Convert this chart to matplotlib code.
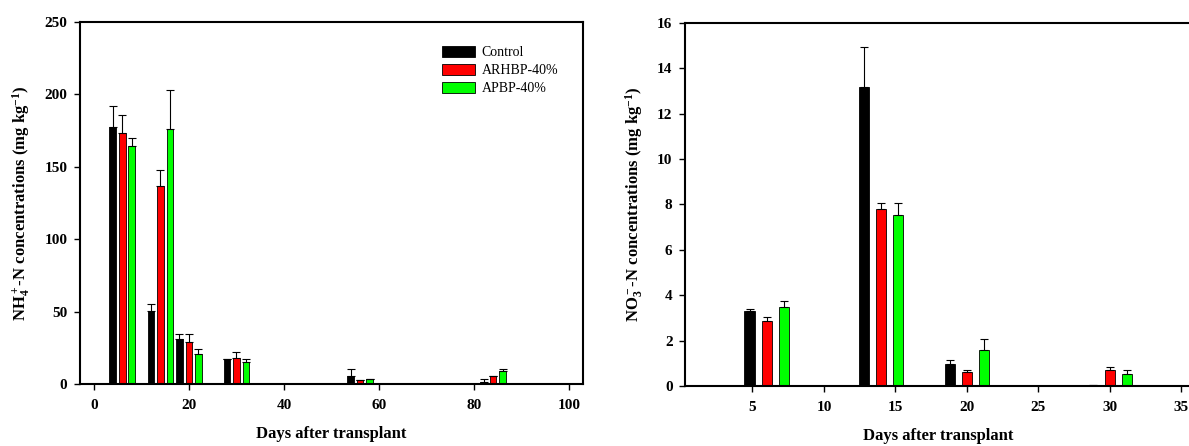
import matplotlib
matplotlib.use("Agg")
import matplotlib.pyplot as plt
import numpy as np

plt.rcParams['font.family'] = ['Liberation Serif', 'DejaVu Serif']
plt.rcParams['mathtext.fontset'] = 'custom'
plt.rcParams['mathtext.rm'] = 'Liberation Serif:bold'
plt.rcParams['mathtext.it'] = 'Liberation Serif:bold'
plt.rcParams['mathtext.bf'] = 'Liberation Serif:bold'
plt.rcParams['mathtext.default'] = 'rm'

series = ['Control', 'ARHBP-40%', 'APBP-40%']
colors = ['#000000', '#ff0000', '#00ff00']

# Left panel: NH4+-N
nh4_days = [6, 14, 20, 30, 56, 84]
nh4_control = [177.8, 50.1, 30.8, 17.0, 5.5, 1.2]
nh4_control_err = [14.2, 5.1, 3.9, 0.3, 4.8, 2.5]
nh4_arhbp = [173.2, 136.8, 28.7, 17.9, 2.8, 5.3]
nh4_arhbp_err = [12.6, 11.3, 5.6, 4.1, 0.2, 0.3]
nh4_apbp = [164.7, 176.4, 20.5, 15.2, 3.2, 9.2]
nh4_apbp_err = [5.0, 26.9, 3.9, 1.8, 0.5, 1.1]

# Right panel: NO3--N
no3_days = [6, 14, 20, 30]
no3_control = [3.29, 13.18, 0.98, 0.03]
no3_control_err = [0.10, 1.75, 0.17, 0.0]
no3_arhbp = [2.85, 7.80, 0.60, 0.71]
no3_arhbp_err = [0.18, 0.24, 0.11, 0.13]
no3_apbp = [3.48, 7.55, 1.60, 0.51]
no3_apbp_err = [0.25, 0.49, 0.47, 0.18]

fig = plt.figure(figsize=(11.89, 4.46), dpi=100)

ax1 = fig.add_axes([80/1189, 62/446, 503/1189, 362/446])
ax2 = fig.add_axes([685/1189, 60/446, 1 - 685/1189 + 0.002, 363.3/446])

def draw(ax, days, vals, errs, offset, width):
    d = np.array(days, dtype=float)
    for i, (v, e) in enumerate(zip(vals, errs)):
        x = d + (i - 1) * offset
        ax.bar(x, v, width=width, color=colors[i], edgecolor='black',
               linewidth=0.6, label=series[i], zorder=2)
        ax.errorbar(x, v, yerr=[np.zeros(len(e)), e], fmt='none',
                    ecolor='black', elinewidth=0.8, capsize=3, capthick=0.8, zorder=3)

draw(ax1, nh4_days, [nh4_control, nh4_arhbp, nh4_apbp],
     [nh4_control_err, nh4_arhbp_err, nh4_apbp_err], 2.0, 1.4)
draw(ax2, no3_days, [no3_control, no3_arhbp, no3_apbp],
     [no3_control_err, no3_arhbp_err, no3_apbp_err], 1.2, 0.72)

ax1.set_xlim(-2.9, 102.9)
ax1.set_ylim(0, 250)
ax1.set_xticks([0, 20, 40, 60, 80, 100])
ax1.set_yticks([0, 50, 100, 150, 200, 250])

ax2.set_xlim(0.28, 35.7)
ax2.set_ylim(0, 16)
ax2.set_xticks([5, 10, 15, 20, 25, 30, 35])
ax2.set_yticks([0, 2, 4, 6, 8, 10, 12, 14, 16])
ax2.spines['right'].set_visible(False)

for ax in (ax1, ax2):
    for s in ax.spines.values():
        s.set_linewidth(1.5)
    ax.tick_params(direction='out', length=4, width=1.0)
    ax.tick_params(axis='x', pad=7)
    ax.tick_params(axis='y', pad=5)
    for lab in ax.get_xticklabels() + ax.get_yticklabels():
        lab.set_fontsize(11)
        lab.set_fontweight('bold')
    ax.set_xlabel('Days after transplant', fontsize=12, fontweight='bold', labelpad=10)

ax1.set_ylabel(r'NH$_4^+$-N concentrations (mg kg$^{-1}$)', fontsize=12,
               fontweight='bold', labelpad=9)
ax2.set_ylabel(r'NO$_3^-$-N concentrations (mg kg$^{-1}$)', fontsize=12,
               fontweight='bold', labelpad=9)

ax1.legend(loc='upper left', bbox_to_anchor=(436/1189, 1 - 40/446),
           bbox_transform=fig.transFigure, frameon=False, fontsize=10,
           handlelength=2.4, handleheight=0.85, labelspacing=0.35,
           handletextpad=0.5, borderaxespad=0)

fig.savefig('out.png', dpi=100)
